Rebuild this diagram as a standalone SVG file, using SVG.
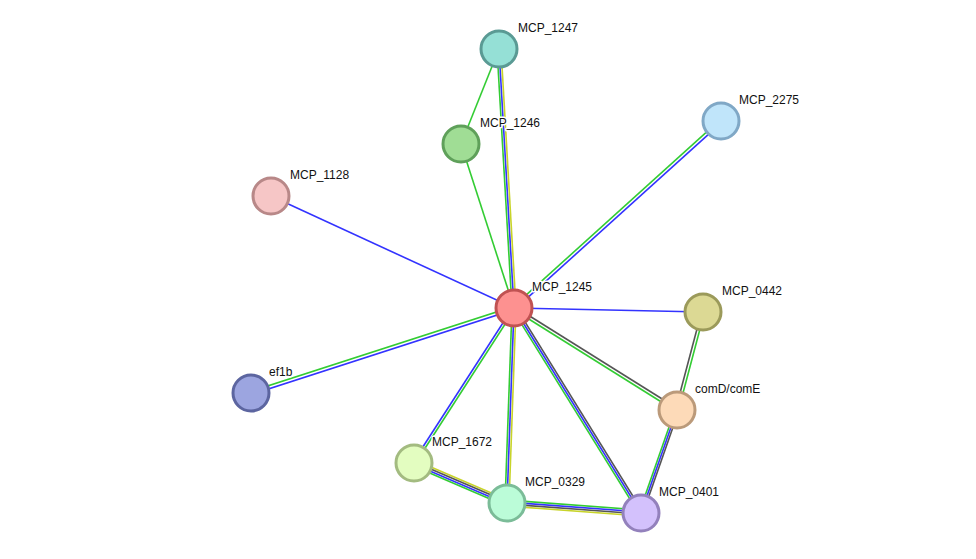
<svg xmlns="http://www.w3.org/2000/svg" width="976" height="559" viewBox="0 0 976 559">
<style>
line{stroke-width:1.6;fill:none}
.g{stroke:#33cc33}.b{stroke:#3333ff}.y{stroke:#c8d42a}.k{stroke:#555555}
circle{stroke-width:3}
text{font-family:"Liberation Sans",Arial,sans-serif;font-size:12px;fill:#111;stroke:#fff;stroke-width:3;paint-order:stroke;stroke-linejoin:round}
</style>
<rect width="976" height="559" fill="#fff"/>
<g id="edges">
<line class="g" x1="512" y1="308" x2="497" y2="49"/><line class="b" x1="514" y1="308" x2="499" y2="49"/><line class="y" x1="516" y1="308" x2="501" y2="49"/>
<line class="g" x1="461" y1="144" x2="499" y2="49"/>
<line class="g" x1="461" y1="144" x2="514" y2="308"/>
<line class="g" x1="513" y1="306.9" x2="720" y2="119.9"/><line class="b" x1="515" y1="309.1" x2="722" y2="122.1"/>
<line class="b" x1="514" y1="308" x2="271" y2="196"/>
<line class="b" x1="514" y1="308" x2="703" y2="312"/>
<line class="g" x1="513.5" y1="306.5" x2="250.5" y2="391.5"/><line class="b" x1="514.5" y1="309.5" x2="251.5" y2="394.5"/>
<line class="b" x1="513" y1="307.3" x2="413" y2="462.3"/><line class="g" x1="515" y1="308.7" x2="415" y2="463.7"/>
<line class="g" x1="512" y1="308" x2="505" y2="503"/><line class="b" x1="514" y1="308" x2="507" y2="503"/><line class="y" x1="516" y1="308" x2="509" y2="503"/>
<line class="g" x1="512.3" y1="309.1" x2="639.3" y2="514.1"/><line class="b" x1="514" y1="308" x2="641" y2="513"/><line class="k" x1="515.7" y1="306.9" x2="642.7" y2="511.9"/>
<line class="k" x1="514.8" y1="306.7" x2="677.8" y2="408.7"/><line class="g" x1="513.2" y1="309.3" x2="676.2" y2="411.3"/>
<line class="k" x1="701.5" y1="312" x2="675.5" y2="410"/><line class="g" x1="704.5" y1="312" x2="678.5" y2="410"/>
<line class="g" x1="675" y1="410" x2="639" y2="513"/><line class="b" x1="677" y1="410" x2="641" y2="513"/><line class="k" x1="679" y1="410" x2="643" y2="513"/>
<line class="y" x1="415.2" y1="460.2" x2="508.2" y2="500.2"/><line class="k" x1="414.4" y1="462.1" x2="507.4" y2="502.1"/><line class="b" x1="413.6" y1="463.9" x2="506.6" y2="503.9"/><line class="g" x1="412.8" y1="465.8" x2="505.8" y2="505.8"/>
<line class="g" x1="507" y1="500" x2="641" y2="510"/><line class="b" x1="507" y1="502" x2="641" y2="512"/><line class="k" x1="507" y1="504" x2="641" y2="514"/><line class="y" x1="507" y1="506" x2="641" y2="516"/>
</g>
<g id="MCP_1247"><circle cx="499" cy="49" r="18" fill="#95e0d6" stroke="#5a9a94"/><text x="518" y="32">MCP_1247</text></g>
<g id="MCP_2275"><circle cx="721" cy="121" r="18" fill="#c0e5fa" stroke="#80a8c6"/><text x="739" y="104">MCP_2275</text></g>
<g id="MCP_1246"><circle cx="461" cy="144" r="18" fill="#a0dd95" stroke="#5fa05a"/><text x="480" y="127">MCP_1246</text></g>
<g id="MCP_1128"><circle cx="271" cy="196" r="18" fill="#f6c6c6" stroke="#b88888"/><text x="290" y="179">MCP_1128</text></g>
<g id="MCP_1245"><circle cx="514" cy="308" r="18" fill="#fd9190" stroke="#c05252"/><text x="532" y="291">MCP_1245</text></g>
<g id="MCP_0442"><circle cx="703" cy="312" r="18" fill="#dcd994" stroke="#9b9a5a"/><text x="722" y="295">MCP_0442</text></g>
<g id="ef1b"><circle cx="251" cy="393" r="18" fill="#9ca5e0" stroke="#5c65a0"/><text x="269" y="376">ef1b</text></g>
<g id="comD_comE"><circle cx="677" cy="410" r="18" fill="#fddab8" stroke="#bb9a7a"/><text x="695" y="393">comD/comE</text></g>
<g id="MCP_1672"><circle cx="414" cy="463" r="18" fill="#e3fdc0" stroke="#a3bb80"/><text x="432" y="446">MCP_1672</text></g>
<g id="MCP_0329"><circle cx="507" cy="503" r="18" fill="#bbfcd8" stroke="#7bbc98"/><text x="525" y="486">MCP_0329</text></g>
<g id="MCP_0401"><circle cx="641" cy="513" r="18" fill="#d3c1fc" stroke="#9381bc"/><text x="659" y="496">MCP_0401</text></g>
</svg>
